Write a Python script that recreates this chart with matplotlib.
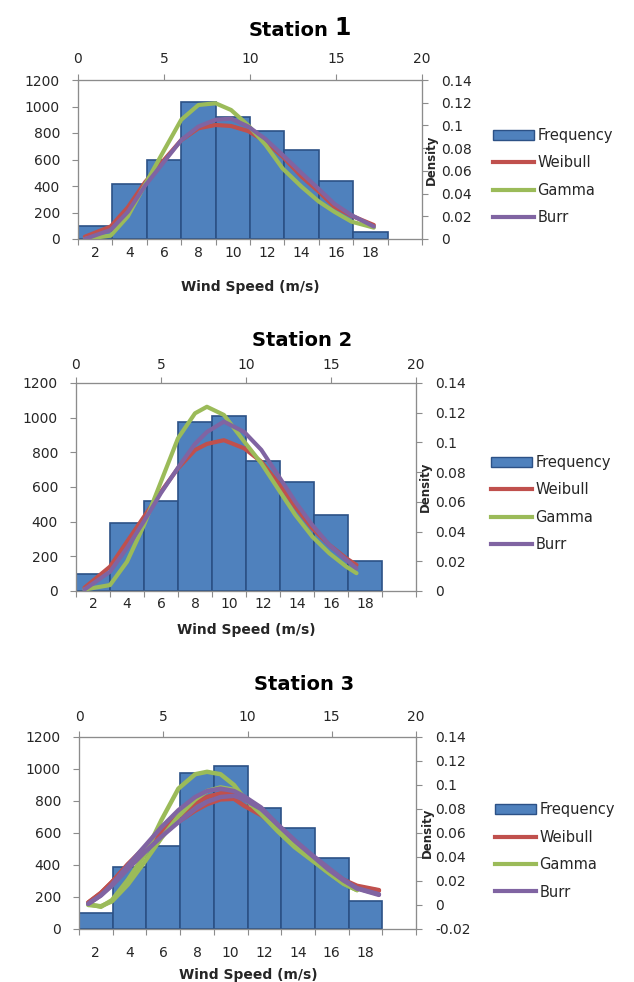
import numpy as np
import matplotlib
matplotlib.use("Agg")
import matplotlib.pyplot as plt
from matplotlib.patches import Patch
from matplotlib.lines import Line2D
from matplotlib.ticker import FuncFormatter

# ---- data ----
cat_labels = ['2', '4', '6', '8', '10', '12', '14', '16', '18']
series_names = ['Frequency', 'Weibull', 'Gamma', 'Burr']

# Station 1
freq_s1 = [100, 415, 598, 1035, 920, 818, 673, 440, 55]
wind_s1 = [0.4, 1.9, 2.9, 3.9, 5.0, 6.0, 7.0, 8.0, 8.9, 9.9, 10.9, 11.9, 13.0, 14.0, 14.9, 15.9, 17.2]
weib_s1 = [0.002, 0.011, 0.028, 0.050, 0.0696, 0.087, 0.0975, 0.1004, 0.0995, 0.095, 0.0857, 0.0725, 0.0549, 0.0417, 0.0285, 0.0205, 0.0123]
gamma_s1 = [0.0, 0.003, 0.020, 0.048, 0.078, 0.105, 0.118, 0.1195, 0.1136, 0.100, 0.083, 0.062, 0.046, 0.033, 0.024, 0.0153, 0.010]
burr_s1 = [0.0, 0.008, 0.024, 0.047, 0.068, 0.087, 0.099, 0.105, 0.106, 0.099, 0.088, 0.074, 0.058, 0.044, 0.031, 0.021, 0.011]

# Station 2
freq_s2 = [96, 390, 521, 975, 1012, 750, 630, 440, 175]
wind_s2 = [0.5, 2.0, 3.0, 4.0, 5.0, 6.0, 7.0, 7.7, 8.7, 9.9, 10.9, 12.0, 12.9, 13.9, 14.9, 15.9, 16.5]
weib_s2 = [0.0022, 0.0164, 0.0332, 0.050, 0.0668, 0.0826, 0.0949, 0.099, 0.1015, 0.096, 0.087, 0.0713, 0.0567, 0.0422, 0.031, 0.022, 0.0175]
gamma_s2 = [0.001, 0.004, 0.0197, 0.0444, 0.0736, 0.1028, 0.1196, 0.124, 0.1185, 0.1005, 0.086, 0.0668, 0.0512, 0.0366, 0.0254, 0.0164, 0.012]
burr_s2 = [0.001, 0.013, 0.029, 0.047, 0.066, 0.083, 0.099, 0.107, 0.114, 0.107, 0.095, 0.0759, 0.060, 0.0444, 0.031, 0.0209, 0.0153]

# Station 3 (several overlapping fits per distribution)
freq_s3 = [100, 390, 521, 976, 1020, 754, 633, 444, 172]
wind_s3 = [0.55, 1.3, 1.95, 2.9, 3.9, 4.9, 5.9, 6.9, 7.6, 8.4, 9.2, 9.8, 10.8, 11.8, 12.8, 13.8, 14.8, 15.7, 16.5, 17.8]
weib_s3_a = [0.002, 0.010, 0.019, 0.034, 0.048, 0.062, 0.074, 0.085, 0.090, 0.093, 0.093, 0.089, 0.079, 0.066, 0.053, 0.041, 0.030, 0.021, 0.016, 0.0124]
weib_s3_b = [0.002, 0.010, 0.019, 0.0336, 0.0469, 0.0588, 0.0694, 0.0787, 0.084, 0.088, 0.0885, 0.0827, 0.075, 0.064, 0.052, 0.040, 0.029, 0.020, 0.015, 0.012]
gamma_s3_a = [0.0008, -0.0015, 0.004, 0.021, 0.042, 0.071, 0.097, 0.109, 0.111, 0.109, 0.100, 0.089, 0.076, 0.0614, 0.0482, 0.0376, 0.027, 0.0177, 0.0124, np.nan]
gamma_s3_b = [0.0, -0.001, 0.003, 0.017, 0.036, 0.056, 0.074, 0.088, 0.095, 0.098, 0.096, 0.090, 0.078, 0.063, 0.049, 0.038, 0.027, 0.018, 0.0124, np.nan]
burr_s3_a = [0.001, 0.008, 0.017, 0.033, 0.049, 0.065, 0.079, 0.090, 0.095, 0.097, 0.095, 0.0906, 0.0813, 0.0668, 0.0535, 0.0415, 0.0296, 0.0204, 0.0137, 0.0084]
burr_s3_b = [0.001, 0.008, 0.016, 0.030, 0.044, 0.057, 0.069, 0.080, 0.086, 0.090, 0.091, 0.088, 0.080, 0.067, 0.054, 0.042, 0.031, 0.021, 0.014, 0.009]

dens_ticks_12 = [0, 0.02, 0.04, 0.06, 0.08, 0.1, 0.12, 0.14]
dens_ticks_3 = [-0.02, 0, 0.02, 0.04, 0.06, 0.08, 0.1, 0.12, 0.14]

# ---- style ----
BLUE = '#4F81BD'
EDGE = '#2C5186'
RED = '#C0504D'
GREEN = '#9BBB59'
PURPLE = '#8064A2'
GRAY = '#8C8C8C'
TXT = '#262626'

W, H = 634, 982
fig = plt.figure(figsize=(W / 100, H / 100), dpi=100)
fig.patch.set_facecolor('white')


def fx(px):
    return px / W


def fy(py):
    return 1 - py / H


def panel(box, freq, wind, lines, dticks, pads, lw=3.0):
    left, top, right, bottom = box
    pad_bot, pad_top = pads
    axL = fig.add_axes([fx(left), fy(bottom), (right - left) / W, (bottom - top) / H])
    axL.bar(np.arange(len(freq)) + 0.5, freq, width=1.0, color=BLUE,
            edgecolor=EDGE, linewidth=1.2)
    axL.set_xlim(0, 10)
    axL.set_ylim(0, 1200)
    axL.set_yticks(range(0, 1201, 200))
    axL.set_xticks(np.arange(0, 11))
    axL.set_xticklabels([])
    axL.set_xticks(np.arange(len(cat_labels)) + 0.5, minor=True)
    axL.set_xticklabels(cat_labels, minor=True)
    axL.tick_params(axis='x', which='minor', length=0, pad=pad_bot, labelsize=10, labelcolor=TXT)
    axL.tick_params(axis='x', which='major', length=4, color=GRAY)
    axL.tick_params(axis='y', length=4, color=GRAY, pad=9, labelsize=10, labelcolor=TXT)

    axR = axL.twinx()
    axT = axR.twiny()
    for xs, ys, c in lines:
        axT.plot(xs, ys, color=c, lw=lw, solid_capstyle='round', solid_joinstyle='round')
    axT.set_xlim(0, 20)
    axT.set_xticks([0, 5, 10, 15, 20])
    axT.tick_params(axis='x', length=4, color=GRAY, pad=pad_top, labelsize=10, labelcolor=TXT)
    axR.set_ylim(dticks[0], dticks[-1])
    axR.set_yticks(dticks)
    axR.yaxis.set_major_formatter(FuncFormatter(lambda v, p: f'{v + 0:g}'))
    axR.tick_params(axis='y', length=4, color=GRAY, pad=10, labelsize=10, labelcolor=TXT)

    for ax in (axL, axR, axT):
        for s in ax.spines.values():
            s.set_color(GRAY)
            s.set_linewidth(0.8)
    return axL


legend_handles = [Patch(facecolor=BLUE, edgecolor=EDGE, linewidth=1.0),
                  Line2D([], [], color=RED, lw=3),
                  Line2D([], [], color=GREEN, lw=3),
                  Line2D([], [], color=PURPLE, lw=3)]


def legend(x_px, y_px):
    leg = fig.legend(legend_handles, series_names, loc='center left',
                     bbox_to_anchor=(fx(x_px), fy(y_px)), frameon=False, fontsize=10.5,
                     handlelength=2.8, handletextpad=0.25, labelspacing=0.85,
                     borderpad=0, borderaxespad=0)
    for t in leg.get_texts():
        t.set_color(TXT)


def axis_titles(xlab_x, xlab_y, dens_x, dens_y):
    fig.text(fx(xlab_x), fy(xlab_y), 'Wind Speed (m/s)', ha='center', va='center',
             fontsize=10, fontweight='bold', color=TXT)
    fig.text(fx(dens_x), fy(dens_y), 'Density', rotation=90, ha='center', va='center',
             fontsize=8.5, fontweight='bold', color=TXT)


# Station 1
ax1 = panel((78, 80, 422, 239), freq_s1, wind_s1,
            [(wind_s1, weib_s1, RED), (wind_s1, gamma_s1, GREEN), (wind_s1, burr_s1, PURPLE)],
            dens_ticks_12, (5, 6))
t1 = fig.text(fx(249), fy(36), 'Station', ha='left', va='baseline',
              fontsize=14, fontweight='bold', color='black')
ax1.annotate('1', xy=(1, 0), xycoords=t1, xytext=(4, 0), textcoords='offset points',
             ha='left', va='bottom', fontsize=17, fontweight='bold', color='black',
             annotation_clip=False)
axis_titles(250, 287, 431, 159.5)
legend(493, 176.5)

# Station 2
panel((76, 383, 416, 591), freq_s2, wind_s2,
      [(wind_s2, weib_s2, RED), (wind_s2, gamma_s2, GREEN), (wind_s2, burr_s2, PURPLE)],
      dens_ticks_12, (4.6, 4))
fig.text(fx(302), fy(346), 'Station 2', ha='center', va='baseline',
         fontsize=14, fontweight='bold', color='black')
axis_titles(246, 630, 425, 487)
legend(491, 503.5)

# Station 3
panel((79, 737, 416, 929), freq_s3, wind_s3,
      [(wind_s3, weib_s3_a, RED), (wind_s3, weib_s3_b, RED),
       (wind_s3, gamma_s3_a, GREEN), (wind_s3, gamma_s3_b, GREEN),
       (wind_s3, burr_s3_a, PURPLE), (wind_s3, burr_s3_b, PURPLE)],
      dens_ticks_3, (12, 5.5), lw=3.2)
fig.text(fx(304), fy(690), 'Station 3', ha='center', va='baseline',
         fontsize=14, fontweight='bold', color='black')
axis_titles(248, 975, 427, 833)
legend(495, 851)

fig.savefig('out.png', dpi=100, facecolor='white')
